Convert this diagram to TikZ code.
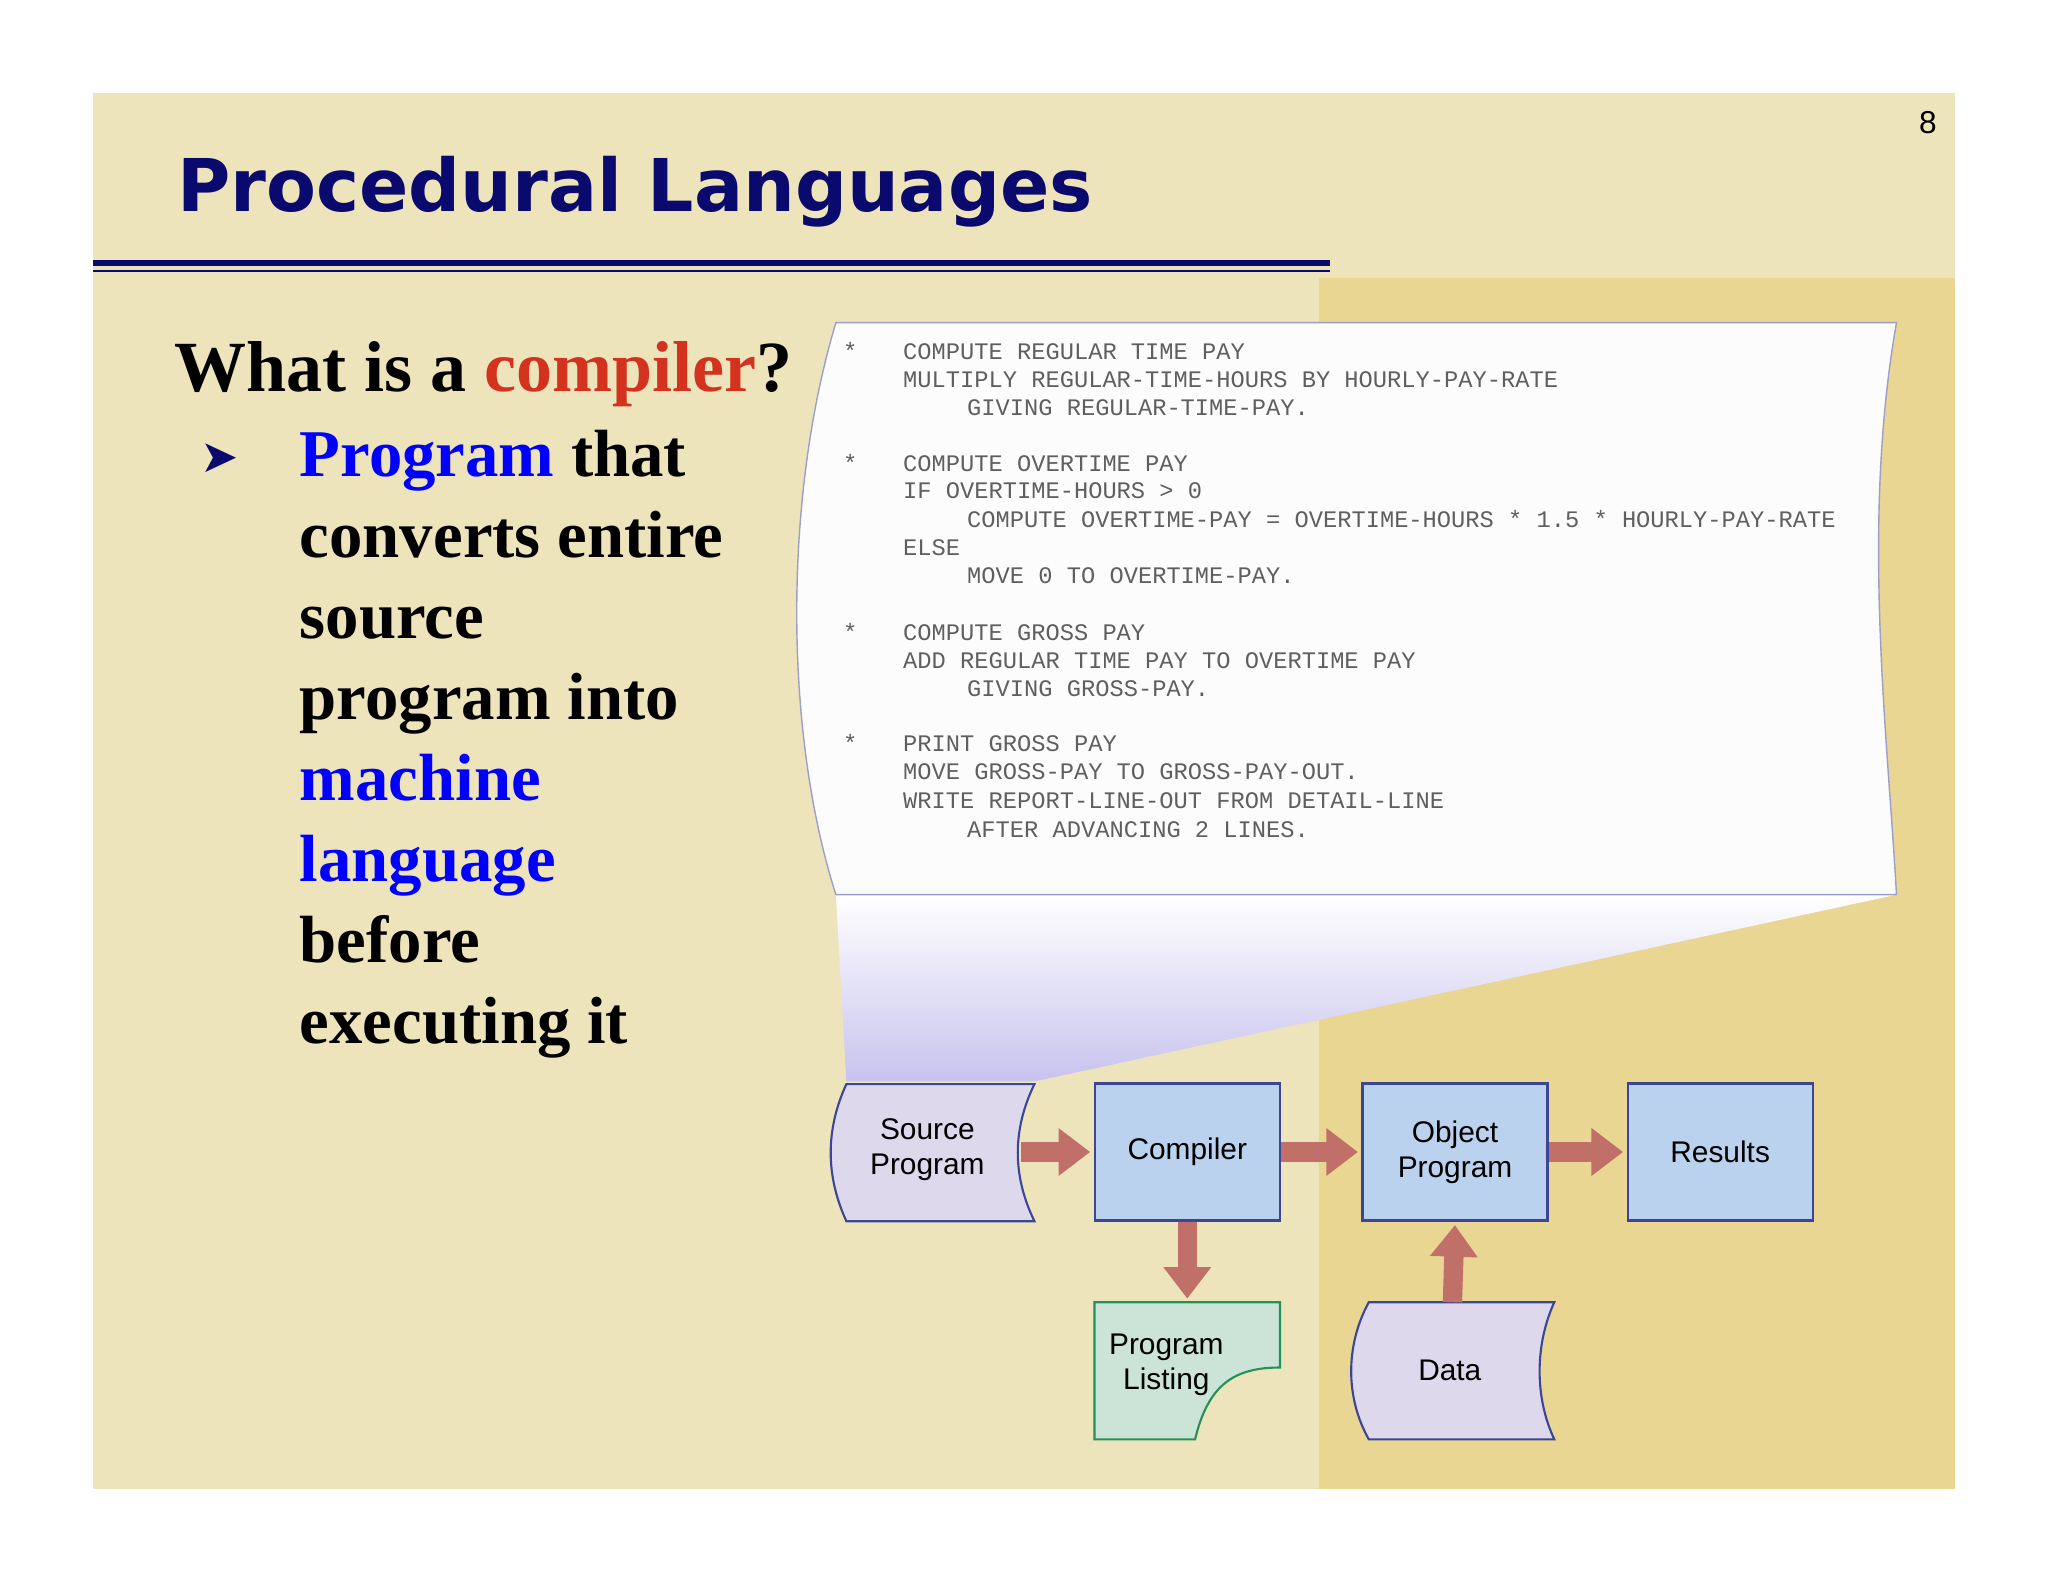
\documentclass[tikz,border=0pt]{standalone}
\usepackage{fontspec}
\setmainfont{Liberation Serif}
\setsansfont{Liberation Sans}
\setmonofont{Liberation Mono}
\newfontfamily\titlefont{DejaVu Sans}
\newfontfamily\symfont{DejaVu Sans}
\usetikzlibrary{arrows.meta}
\definecolor{slidebg}{RGB}{238,228,188}
\definecolor{slidedark}{RGB}{232,214,146}
\definecolor{navy}{RGB}{10,10,110}
\definecolor{boxblue}{RGB}{186,210,238}
\definecolor{boxlav}{RGB}{222,216,236}
\definecolor{boxgreen}{RGB}{204,228,216}
\definecolor{edgeblue}{RGB}{60,70,150}
\definecolor{arrowred}{RGB}{192,112,104}
\definecolor{codegray}{RGB}{95,95,95}
\definecolor{redword}{RGB}{210,50,30}
\tikzset{
pbox/.style = {rectangle, draw=edgeblue, fill=boxblue, line width=0.6pt, minimum width=1.85cm, minimum height=1.37cm, align=center, font=\sffamily\fontsize{8.5}{10}\selectfont},
plabel/.style = {align=center, font=\sffamily\fontsize{8.5}{10}\selectfont},
flow/.style = {draw=arrowred, line width=5.5pt, -{Triangle[width=13pt,length=9pt]}, shorten >=1pt},
codeline/.style = {anchor=base west, inner sep=0pt, font=\ttfamily\fontsize{6.75}{8}\selectfont, text=codegray},
bodyline/.style = {anchor=base west, inner sep=0pt, font=\bfseries\fontsize{19}{23}\selectfont}
}
\begin{document}
\begin{tikzpicture}[x=0.01306cm, y=-0.01306cm]
    \useasboundingbox (0,0) rectangle (1568,1211);
    % slide
    \fill[slidebg] (71,71) rectangle (1497,1140);
    \fill[slidedark] (1010,213) rectangle (1497,1140);
    \node[anchor=base west, inner sep=0pt, text=navy, font=\titlefont\bfseries\fontsize{20.7}{24}\selectfont] (title) at (135,162) {Procedural Languages};
    \fill[navy] (71,199) rectangle (1018,204);
    \draw[navy, line width=0.5pt] (71,207.5) -- (1018,207.5);
    \node[font=\sffamily\small] (pagenum) at (1476,94) {8};
    % question and bullet
    \node[bodyline, font=\bfseries\fontsize{20.5}{24}\selectfont] (question) at (133,300) {What is a \textcolor{redword}{compiler}?};
    \node[anchor=base west, inner sep=0pt, text=navy, font=\symfont\fontsize{13}{16}\selectfont] (bullet) at (153,362) {➤};
    \node[bodyline] (l1) at (229,365) {\textcolor{blue}{Program} that};
    \node[bodyline] (l2) at (229,427) {converts entire};
    \node[bodyline] (l3) at (229,489) {source};
    \node[bodyline] (l4) at (229,551) {program into};
    \node[bodyline, text=blue] (l5) at (229,613) {machine};
    \node[bodyline, text=blue] (l6) at (229,675) {language};
    \node[bodyline] (l7) at (229,737) {before};
    \node[bodyline] (l8) at (229,799) {executing it};
    % code sheet and funnel
    \shade[top color=white, bottom color=boxlav!90!blue] (640,685) -- (1452,685) -- (792,828) -- (648,828) -- cycle;
    \filldraw[fill=white!92!boxlav, draw=boxlav!60!edgeblue, line width=0.4pt]
        (640,247) -- (1452,247) .. controls (1425,400) and (1445,560) .. (1452,685)
        -- (640,685) .. controls (600,560) and (600,380) .. cycle;
    \foreach \y/\t in {270/COMPUTE REGULAR TIME PAY, 292/MULTIPLY REGULAR-TIME-HOURS BY HOURLY-PAY-RATE,
        356/COMPUTE OVERTIME PAY, 377/IF OVERTIME-HOURS > 0, 420/ELSE,
        485/COMPUTE GROSS PAY, 507/ADD REGULAR TIME PAY TO OVERTIME PAY,
        570/PRINT GROSS PAY, 592/MOVE GROSS-PAY TO GROSS-PAY-OUT., 614/WRITE REPORT-LINE-OUT FROM DETAIL-LINE}
        \node[codeline] at (691,\y+5) {\t};
    \foreach \y/\t in {313/GIVING REGULAR-TIME-PAY., 399/COMPUTE OVERTIME-PAY = OVERTIME-HOURS * 1.5 * HOURLY-PAY-RATE,
        442/MOVE 0 TO OVERTIME-PAY., 528/GIVING GROSS-PAY., 636/AFTER ADVANCING 2 LINES.}
        \node[codeline] at (740,\y+5) {\t};
    \foreach \y in {270,356,485,570}
        \node[codeline] at (645,\y+5) {*};
    % flowchart
    \filldraw[fill=boxlav, draw=edgeblue, line width=0.6pt]
        (648,830) -- (792,830) .. controls (775,865) and (775,900) .. (792,935)
        -- (648,935) .. controls (632,900) and (632,865) .. cycle;
    \node[plabel] (source) at (710,880) {Source\\Program};
    \node[pbox] (compiler) at (909,882) {Compiler};
    \node[pbox] (object) at (1114,882) {Object\\Program};
    \node[pbox] (results) at (1317,882) {Results};
    \filldraw[fill=boxgreen, draw=edgeblue!60!green, line width=0.6pt]
        (838,997) -- (980,997) -- (980,1047) .. controls (945,1047) and (925,1060) .. (915,1102)
        -- (838,1102) -- cycle;
    \node[plabel] (listing) at (893,1045) {Program\\Listing};
    \coordinate (listtop) at (909,997);
    \filldraw[fill=boxlav, draw=edgeblue, line width=0.6pt]
        (1048,997) -- (1190,997) .. controls (1175,1030) and (1175,1070) .. (1190,1102)
        -- (1048,1102) .. controls (1030,1070) and (1030,1030) .. cycle;
    \node[plabel] (data) at (1110,1049) {Data};
    \coordinate (datatop) at (1112,997);

    \draw[flow] (782,882) -- (compiler.west);
    \draw[flow] (compiler) -- (object);
    \draw[flow] (object) -- (results);
    \draw[flow] (compiler) -- (listtop);
    \draw[flow] (datatop) -- (object.south);
\end{tikzpicture}
\end{document}
